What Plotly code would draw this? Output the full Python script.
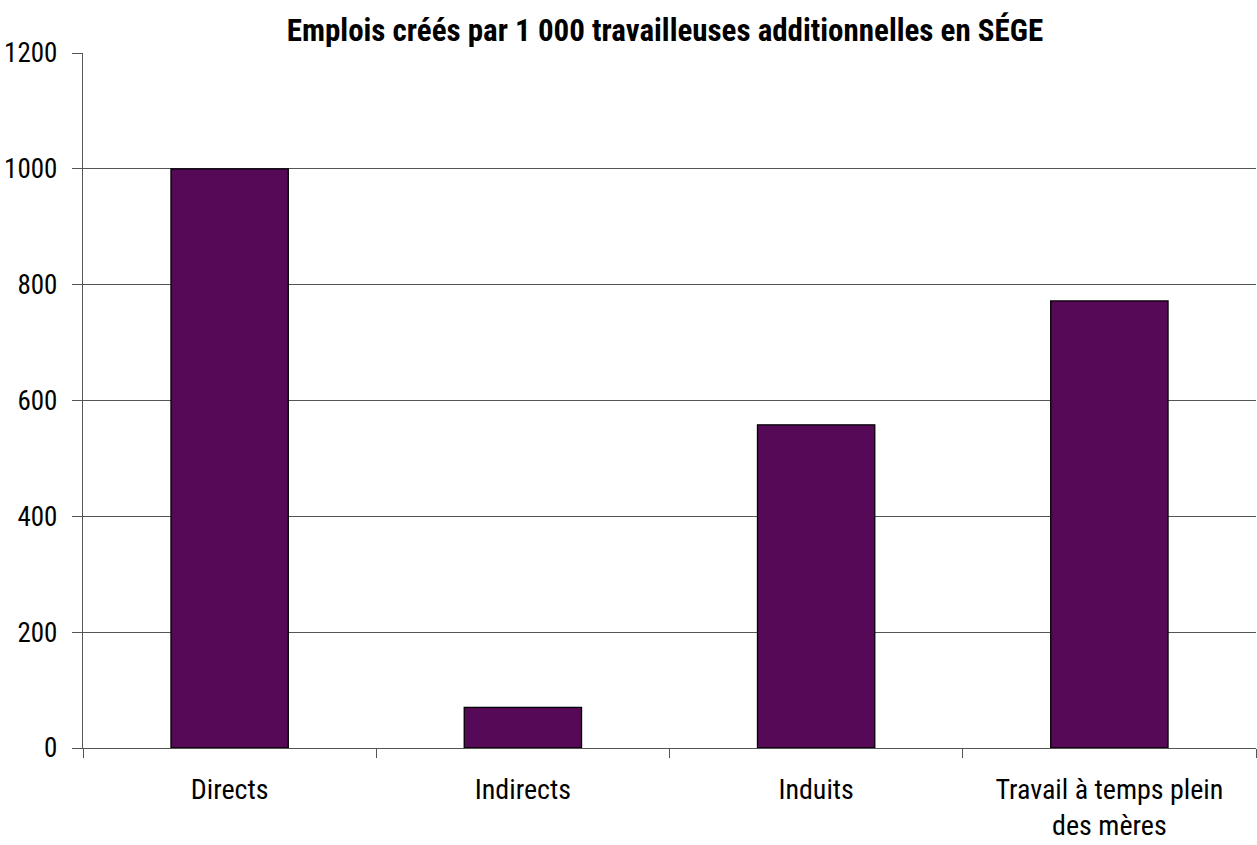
import plotly.graph_objects as go

categories = ["Directs", "Indirects", "Induits", "Travail à temps plein<br>des mères"]
values = [1000, 70, 558, 772]
y_ticks = [0, 200, 400, 600, 800, 1000, 1200]
title = "Emplois créés par 1 000 travailleuses additionnelles en SÉGE"

FONT = "Liberation Sans Narrow, Roboto Condensed, Arial Narrow, sans-serif"

fig = go.Figure(go.Bar(
    x=categories, y=values,
    marker=dict(color="#550957", line=dict(color="#000000", width=1.3)),
    width=0.4,
))

fig.update_layout(
    width=1257, height=845,
    margin=dict(l=83, r=1, t=53, b=97),
    paper_bgcolor="white", plot_bgcolor="white",
    title=dict(text="<b>" + title + "</b>", x=0.529, xanchor="center", xref="container",
               y=0.9645, yanchor="middle", yref="container",
               font=dict(family=FONT, size=31, color="black")),
    font=dict(family=FONT, size=28, color="black"),
    showlegend=False,
)
fig.update_xaxes(
    showline=True, linecolor="#555555", linewidth=1.3,
    ticks="outside", tickson="boundaries", ticklen=9, tickcolor="#555555",
    showgrid=False, tickfont=dict(family=FONT, size=28, color="black"),
    ticklabelstandoff=16, automargin=False,
)
fig.update_yaxes(
    range=[0, 1200], tickvals=y_ticks,
    showline=True, linecolor="#555555", linewidth=1.3,
    ticks="outside", ticklen=10, tickcolor="#555555",
    showgrid=True, gridcolor="#555555", gridwidth=1,
    zeroline=False, automargin=False, ticklabelstandoff=9,
    tickfont=dict(family=FONT, size=27, color="black"),
)

fig.write_html("out.html", config={"displayModeBar": False},
               post_script="document.body.style.margin='0';")
